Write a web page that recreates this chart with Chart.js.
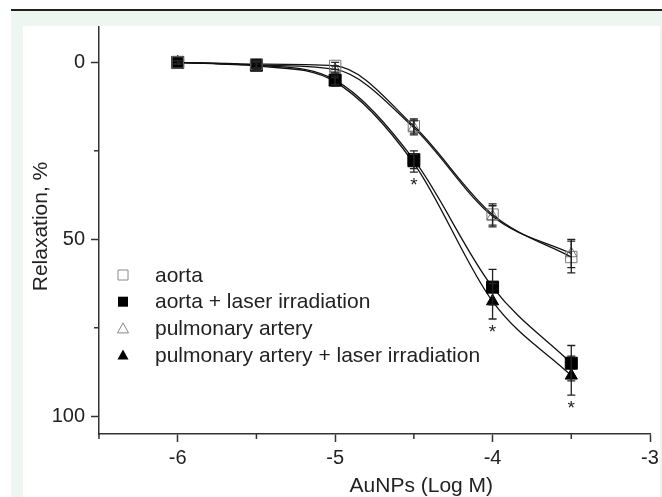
<!DOCTYPE html>
<html>
<head>
<meta charset="utf-8">
<script src="https://cdn.jsdelivr.net/npm/chart.js@4.4.1/dist/chart.umd.min.js"></script>
<style>
  html, body { margin: 0; padding: 0; background: #fff; }
  #frame { position: absolute; left: 11px; top: 9px; width: 651px; height: 486px; border-top: 2px solid #222; background: #eef6f1; }
  #panel { position: absolute; left: 23px; top: 26px; width: 637px; height: 471px; background: #fff; }
</style>
</head>
<body>
<div id="frame"></div>
<div id="panel"><canvas id="chart" width="637" height="471"></canvas></div>
<script>
// concentrations (log M)
const xValues = [-6, -5.5, -5, -4.5, -4, -3.5];

// relaxation, % (mean and error)
const aorta = [0, 0.5, 1, 18, 43, 55];
const aortaErr = [0.5, 1, 1, 2, 3, 4.5];
const aortaLaser = [0, 0.8, 5, 27.5, 63.5, 85];
const aortaLaserErr = [0.5, 1, 1.2, 2.5, 5, 5];
const pulmonary = [0, 0.8, 2, 18.5, 43.5, 54];
const pulmonaryErr = [0.5, 1, 1, 2, 3, 4];
const pulmonaryLaser = [0, 1, 5.5, 28.5, 67.5, 88.5];
const pulmonaryLaserErr = [0.5, 1, 1.2, 2.5, 5, 5.5];

// significance marks (*) under these concentrations
const starX = [-4.5, -4, -3.5];

const xTicks = [-6.5, -6, -5.5, -5, -4.5, -4, -3.5, -3];
const yTicks = [0, 25, 50, 75, 100];

const FONT = "'Liberation Sans', Arial, sans-serif";
const AXIS = "#333";

const toPoints = (ys) => ys.map((y, i) => ({ x: xValues[i], y }));

function makeSet(label, ys, errs, style, filled, radius) {
  return {
    label,
    data: toPoints(ys),
    errors: errs,
    showLine: true,
    cubicInterpolationMode: "monotone",
    borderColor: "#111",
    borderWidth: 1.3,
    pointStyle: style,
    pointRadius: radius,
    pointBorderWidth: 1,
    pointBorderColor: filled ? "#000" : "#777",
    pointBackgroundColor: filled ? "#000" : "rgba(0,0,0,0)",
    filledMarker: filled,
  };
}

const datasets = [
  makeSet("aorta", aorta, aortaErr, "rect", false, 8),
  makeSet("aorta + laser irradiation", aortaLaser, aortaLaserErr, "rect", true, 8.5),
  makeSet("pulmonary artery", pulmonary, pulmonaryErr, "triangle", false, 6.5),
  makeSet("pulmonary artery + laser irradiation", pulmonaryLaser, pulmonaryLaserErr, "triangle", true, 7),
];

function marker(ctx, style, filled, x, y, s) {
  ctx.save();
  ctx.beginPath();
  if (style === "rect") {
    ctx.rect(x - s / 2, y - s / 2, s, s);
  } else {
    ctx.moveTo(x, y - s * 0.55);
    ctx.lineTo(x + s * 0.55, y + s * 0.45);
    ctx.lineTo(x - s * 0.55, y + s * 0.45);
    ctx.closePath();
  }
  if (filled) {
    ctx.fillStyle = "#000";
    ctx.fill();
  } else {
    ctx.strokeStyle = "#888";
    ctx.lineWidth = 1;
    ctx.stroke();
  }
  ctx.restore();
}

// error bars + significance stars
const errorBars = {
  id: "errorBars",
  afterDatasetsDraw(chart) {
    const { ctx, scales: { x, y } } = chart;
    ctx.save();
    ctx.strokeStyle = "#222";
    ctx.lineWidth = 1.3;
    chart.data.datasets.forEach((ds) => {
      ds.data.forEach((p, i) => {
        const e = ds.errors[i];
        const px = x.getPixelForValue(p.x);
        const top = y.getPixelForValue(p.y - e);
        const bot = y.getPixelForValue(p.y + e);
        ctx.beginPath();
        ctx.moveTo(px, top); ctx.lineTo(px, bot);
        ctx.moveTo(px - 4, top); ctx.lineTo(px + 4, top);
        ctx.moveTo(px - 4, bot); ctx.lineTo(px + 4, bot);
        ctx.stroke();
      });
    });
    ctx.fillStyle = "#222";
    ctx.font = "19px " + FONT;
    ctx.textAlign = "center";
    ctx.textBaseline = "middle";
    starX.forEach((sx) => {
      const i = xValues.indexOf(sx);
      const py = y.getPixelForValue(pulmonaryLaser[i] + pulmonaryLaserErr[i]) + 14;
      ctx.fillText("*", x.getPixelForValue(sx), py);
    });
    ctx.restore();
  },
};

// minor ticks, axis titles and the legend box inside the plot
const decorations = {
  id: "decorations",
  afterDraw(chart) {
    const { ctx, chartArea: a, scales: { x, y } } = chart;
    ctx.save();
    ctx.strokeStyle = AXIS;
    ctx.lineWidth = 1.5;
    ctx.beginPath();
    xTicks.filter((v) => !Number.isInteger(v)).forEach((v) => {
      const px = x.getPixelForValue(v);
      ctx.moveTo(px, a.bottom); ctx.lineTo(px, a.bottom + 5);
    });
    yTicks.filter((v) => v % 50 !== 0).forEach((v) => {
      const py = y.getPixelForValue(v);
      ctx.moveTo(a.left - 5, py); ctx.lineTo(a.left, py);
    });
    ctx.stroke();

    ctx.fillStyle = "#222";
    ctx.font = "21px " + FONT;
    ctx.textAlign = "center";
    ctx.textBaseline = "middle";
    ctx.fillText("AuNPs (Log M)", a.left + (a.right - a.left) * 0.585, 460);
    ctx.save();
    ctx.translate(18, (a.top + a.bottom) / 2 - 4);
    ctx.rotate(-Math.PI / 2);
    ctx.fillText("Relaxation, %", 0, 0);
    ctx.restore();

    ctx.textAlign = "left";
    chart.data.datasets.forEach((ds, i) => {
      const ly = 249 + i * 26.7;
      marker(ctx, ds.pointStyle, ds.filledMarker, 100, ly, 10);
      ctx.fillStyle = "#222";
      ctx.fillText(ds.label, 132, ly + 1);
    });
    ctx.restore();
  },
};

new Chart(document.getElementById("chart"), {
  type: "scatter",
  data: { datasets },
  plugins: [errorBars, decorations],
  options: {
    responsive: false,
    animation: false,
    layout: { autoPadding: false, padding: { top: 1, right: 10, left: 0, bottom: 0 } },
    plugins: { legend: { display: false }, tooltip: { enabled: false } },
    scales: {
      x: {
        type: "linear",
        min: -6.5,
        max: -3,
        afterBuildTicks: (s) => { s.ticks = xTicks.map((v) => ({ value: v })); },
        afterFit: (s) => { s.height = 63; s.paddingLeft = 0; s.paddingRight = 0; },
        border: { color: AXIS, width: 1.5 },
        grid: {
          drawOnChartArea: false,
          tickLength: 8,
          tickWidth: 1.5,
          tickColor: (c) => (c.tick && Number.isInteger(c.tick.value) ? AXIS : "rgba(0,0,0,0)"),
        },
        ticks: {
          padding: 4,
          color: "#222",
          font: { family: FONT, size: 20 },
          maxRotation: 0,
          autoSkip: false,
          callback: (v) => (Number.isInteger(v) ? String(v) : ""),
        },
      },
      y: {
        type: "linear",
        reverse: true,
        min: -10,
        max: 105,
        afterBuildTicks: (s) => { s.ticks = yTicks.map((v) => ({ value: v })); },
        afterFit: (s) => { s.width = 76; s.paddingTop = 0; s.paddingBottom = 0; },
        border: { color: AXIS, width: 1.5 },
        grid: {
          drawOnChartArea: false,
          tickLength: 8,
          tickWidth: 1.5,
          tickColor: (c) => (c.tick && c.tick.value % 50 === 0 ? AXIS : "rgba(0,0,0,0)"),
        },
        ticks: {
          padding: 6,
          color: "#222",
          font: { family: FONT, size: 20 },
          autoSkip: false,
          callback: (v) => (v % 50 === 0 ? String(v) : ""),
        },
      },
    },
  },
});
</script>
</body>
</html>
